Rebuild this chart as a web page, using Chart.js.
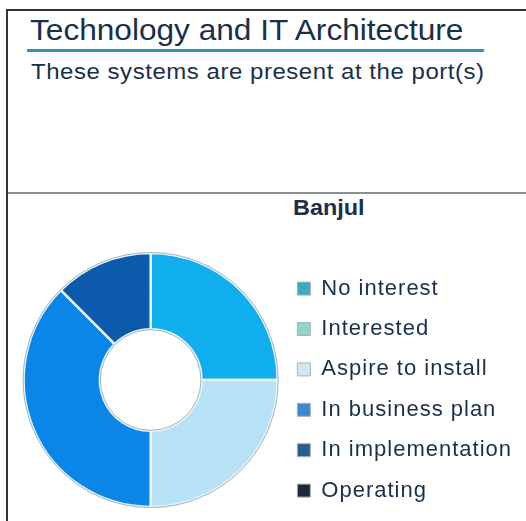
<!DOCTYPE html>
<html>
<head>
<meta charset="utf-8">
<script src="https://cdn.jsdelivr.net/npm/chart.js@4"></script>
<style>
  html, body { margin: 0; padding: 0; background: #fff; }
  body { width: 526px; height: 521px; position: relative; overflow: hidden; font-family: "Liberation Sans", Arial, sans-serif; }
  .frame-top { position: absolute; left: 6px; top: 9px; width: 520px; height: 2px; background: #2b3440; }
  .frame-left { position: absolute; left: 6px; top: 9px; width: 2px; height: 512px; background: #2b3440; }
  .divider { position: absolute; left: 8px; top: 192px; width: 518px; height: 2px; background: #8a8f94; }
  .txt { position: absolute; white-space: nowrap; line-height: 1; transform-origin: 0 0; transform: scaleX(1.09); color: #18304a; }
  .title { left: 30px; top: 15.5px; font-size: 29px; }
  .rule { position: absolute; left: 27px; top: 49px; width: 457px; height: 2.5px; background: #3a8db4; }
  .subtitle { left: 31px; top: 60.5px; font-size: 22px; letter-spacing: 0.5px; }
  .port { left: 293px; top: 198px; font-size: 21.5px; font-weight: bold; color: #1b2f4a; }
  #wrap { position: absolute; left: 8px; top: 240px; width: 518px; height: 280px; }
</style>
</head>
<body>
<div class="frame-top"></div>
<div class="frame-left"></div>
<div class="txt title">Technology and IT Architecture</div>
<div class="rule"></div>
<div class="txt subtitle">These systems are present at the port(s)</div>
<div class="divider"></div>
<div class="txt port">Banjul</div>
<div id="wrap"><canvas id="dona"></canvas></div>
<script>
const categorias = ['No interest', 'Interested', 'Aspire to install', 'In business plan', 'In implementation', 'Operating'];
const valores = [0, 2, 2, 3, 0, 1];
const coloresSegmento = ['#2a9fc0', '#10aeec', '#b7e2f6', '#0a86e8', '#1f6cb8', '#0b5aab'];
const coloresLeyenda = ['#3ba9bf', '#8fd4d0', '#d4e6f1', '#3d88cf', '#2a5d94', '#1c2a3d'];

// contorno gris fino del anillo y espaciado de letras de la leyenda
const extras = {
  id: 'extras',
  beforeLayout(chart) { chart.ctx.letterSpacing = '1px'; },
  beforeDraw(chart) { chart.ctx.letterSpacing = '1px'; },
  afterDatasetsDraw(chart) {
    const arco = chart.getDatasetMeta(0).data[0];
    if (!arco) return;
    const c = chart.ctx;
    c.save();
    c.strokeStyle = '#aab4bc';
    c.lineWidth = 1;
    c.beginPath();
    c.arc(arco.x, arco.y, arco.outerRadius + 0.5, 0, Math.PI * 2);
    c.stroke();
    c.beginPath();
    c.arc(arco.x, arco.y, arco.innerRadius - 0.5, 0, Math.PI * 2);
    c.stroke();
    c.restore();
  }
};

document.addEventListener('DOMContentLoaded', function () {
  const ctx = document.getElementById('dona').getContext('2d');
  const grafica = new Chart(ctx, {
    type: 'doughnut',
    data: {
      labels: categorias,
      datasets: [{
        data: valores,
        backgroundColor: coloresSegmento,
        borderColor: '#e8f6fc',
        borderWidth: 2.5
      }]
    },
    options: {
      responsive: true,
      maintainAspectRatio: false,
      animation: false,
      cutout: '40%',
      layout: { padding: { left: 14.4, right: 4 } },
      plugins: {
        legend: {
          position: 'right',
          align: 'end',
          labels: {
            font: { family: 'Liberation Sans', size: 22 },
            color: '#18304a',
            boxWidth: 13,
            boxHeight: 13,
            padding: 18.4,
            generateLabels: function (chart) {
              return categorias.map(function (c, i) {
                return {
                  text: c,
                  fillStyle: coloresLeyenda[i],
                  strokeStyle: '#a9b3bb',
                  lineWidth: 1,
                  fontColor: '#18304a',
                  hidden: false,
                  index: i
                };
              });
            }
          }
        },
        tooltip: { enabled: false }
      }
    },
    plugins: [extras]
  });
});
</script>
</body>
</html>
